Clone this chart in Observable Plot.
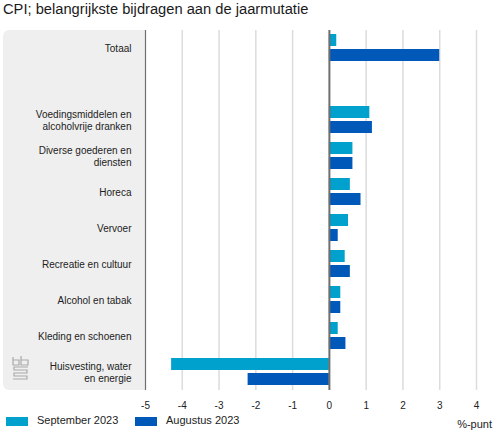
<!DOCTYPE html>
<html>
<head>
<meta charset="utf-8">
<script src="https://cdn.jsdelivr.net/npm/d3@7"></script>
<script src="https://cdn.jsdelivr.net/npm/@observablehq/plot@0.6"></script>
<style>
  html, body { margin: 0; padding: 0; background: #fff; }
  body { font-family: "Liberation Sans", Arial, Helvetica, sans-serif; color: #222; }
  #wrap { position: relative; width: 499px; height: 435px; overflow: hidden; }
  #title { position: absolute; left: 3px; top: 1px; font-size: 14.7px; color: #1a1a1a; white-space: nowrap; }
  #panel { position: absolute; left: 3px; top: 30px; width: 142px; height: 360px; background: #efefef; border-radius: 6px 0 0 6px; }
  #logo { position: absolute; left: 12px; top: 355px; }
  #chart { position: absolute; left: 0; top: 0; }
  #legend { position: absolute; left: 0; top: 413px; width: 499px; height: 20px; font-size: 11px; color: #222; }
  .sw { position: absolute; top: 4px; width: 22px; height: 9px; }
  .lt { position: absolute; top: 1px; white-space: nowrap; }
  #unit { position: absolute; right: 7px; top: 5px; font-size: 11px; }
</style>
</head>
<body>
<div id="wrap">
  <div id="panel"></div>
  <svg id="logo" width="18" height="26" viewBox="0 0 18 26" fill="none" stroke="#a9a9a9" stroke-width="1.2">
    <path d="M1 2 V10 H7 V5 H1"/><path d="M9 1 V10 H16 V5 H9"/>
    <path d="M16 12 H2 V15 H15 V18 H2 V21 H15 V24 H1"/>
  </svg>
  <div id="title"></div>
  <div id="chart"></div>
  <div id="legend"></div>
</div>
<script>
// ---- data ----
const title = "CPI; belangrijkste bijdragen aan de jaarmutatie";
const categories = [
  "Totaal",
  " ",
  "Voedingsmiddelen en\nalcoholvrije dranken",
  "Diverse goederen en\ndiensten",
  "Horeca",
  "Vervoer",
  "Recreatie en cultuur",
  "Alcohol en tabak",
  "Kleding en schoenen",
  "Huisvesting, water\nen energie"
];
const seriesNames = ["September 2023", "Augustus 2023"];
const september2023 = [0.2, null, 1.1, 0.64, 0.57, 0.52, 0.43, 0.31, 0.24, -4.29];
const augustus2023  = [3.0, null, 1.17, 0.64, 0.86, 0.24, 0.57, 0.31, 0.45, -2.21];
const xTicks = [-5, -4, -3, -2, -1, 0, 1, 2, 3, 4];
const gridTicks = [-4, -3, -2, -1, 1, 2, 3, 4];
const unitLabel = "%-punt";
const colors = ["#00a1cd", "#0058b8"];

// ---- build tables ----
const rows = [];
categories.forEach((c, i) => {
  if (september2023[i] != null) rows.push({category: c, series: seriesNames[0], value: september2023[i]});
  if (augustus2023[i] != null) rows.push({category: c, series: seriesNames[1], value: augustus2023[i]});
});
// grid lines per row band (so that every row, including the spacer, is drawn)
const gridRows = categories.flatMap(c => gridTicks.map(t => ({category: c, x: t})));
const zeroRows = categories.map(c => ({category: c, x: 0}));
const leftRows = categories.map(c => ({category: c, x: -5}));

document.getElementById("title").textContent = title;

const chart = Plot.plot({
  width: 499,
  height: 412,
  marginTop: 30,
  marginBottom: 22,
  marginLeft: 145,
  marginRight: 23,
  style: {background: "transparent", fontFamily: "'Liberation Sans', Arial, sans-serif"},
  x: {domain: [-5, 4]},
  fy: {domain: categories, paddingInner: 0, paddingOuter: 0, axis: null},
  y: {domain: seriesNames, paddingInner: 0.1875, paddingOuter: 0.22, axis: null},
  color: {domain: seriesNames, range: colors},
  marks: [
    Plot.ruleX(gridRows, {x: "x", fy: "category", stroke: "#dcdcdc", strokeWidth: 1.5}),
    Plot.barX(rows, {x: "value", y: "series", fy: "category", fill: "series"}),
    Plot.ruleX(zeroRows, {x: "x", fy: "category", stroke: "#6e6e6e", strokeWidth: 2}),
    Plot.ruleX(leftRows, {x: "x", fy: "category", stroke: "#6e6e6e", strokeWidth: 1.2}),
    Plot.axisFy({
      domain: categories,
      anchor: "left",
      tickSize: 0,
      tickPadding: 14,
      fontSize: 10,
      lineHeight: 1.2,
      fill: "#222",
      label: null
    }),
    Plot.axisX({
      ticks: xTicks,
      tickSize: 0,
      tickPadding: 11,
      tickFormat: d => String(d),
      fontSize: 10,
      fill: "#222",
      label: null
    })
  ]
});
document.getElementById("chart").appendChild(chart);

// ---- legend ----
const legend = document.getElementById("legend");
const legendX = [[6, 37], [135, 166]];
seriesNames.forEach((s, i) => {
  const sw = document.createElement("div");
  sw.className = "sw";
  sw.style.left = legendX[i][0] + "px";
  sw.style.background = colors[i];
  legend.appendChild(sw);
  const t = document.createElement("div");
  t.className = "lt";
  t.style.left = legendX[i][1] + "px";
  t.textContent = s;
  legend.appendChild(t);
});
const u = document.createElement("div");
u.id = "unit";
u.textContent = unitLabel;
legend.appendChild(u);
</script>
</body>
</html>
